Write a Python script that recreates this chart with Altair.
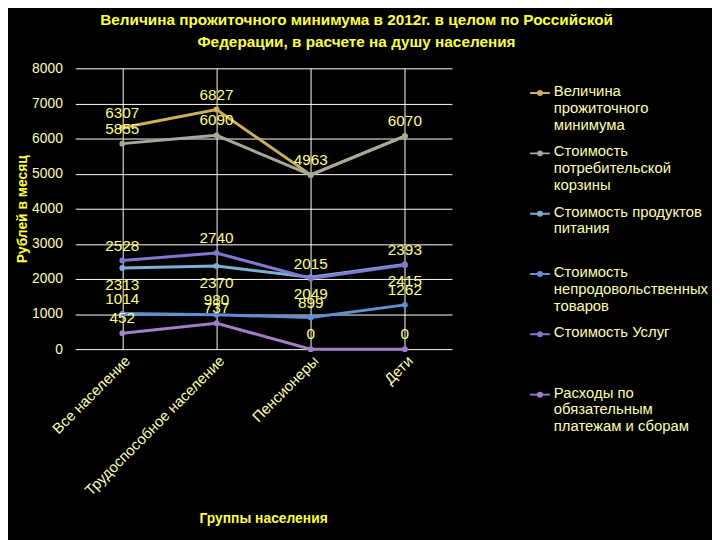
import altair as alt
import pandas as pd

groups = ["Все население", "Трудоспособное население", "Пенсионеры", "Дети"]
series = [
    "Величина прожиточного минимума",
    "Стоимость потребительской корзины",
    "Стоимость продуктов питания",
    "Стоимость непродовольственных товаров",
    "Стоимость Услуг",
    "Расходы по обязательным платежам и сборам",
]
legend_text = [
    "Величина|прожиточного|минимума",
    "Стоимость|потребительской|корзины",
    "Стоимость продуктов|питания",
    "Стоимость|непродовольственных|товаров",
    "Стоимость Услуг",
    "Расходы по|обязательным|платежам и сборам",
]
living_wage = [6307, 6827, 4963, 6070]
basket = [5855, 6090, 4963, 6070]
food = [2313, 2370, 2049, 2415]
nonfood = [1014, 980, 899, 1262]
services = [2528, 2740, 2015, 2393]
payments = [452, 737, 0, 0]
colors = ["#cdb05a", "#a8a897", "#7eaed4", "#5f8fd6", "#8078d0", "#a07fc8"]
y_ticks = [0, 1000, 2000, 3000, 4000, 5000, 6000, 7000, 8000]

values = [living_wage, basket, food, nonfood, services, payments]
rows = []
for s, lt, vals in zip(series, legend_text, values):
    for i, (g, v) in enumerate(zip(groups, vals)):
        # the basket label coincides with the living-wage label where equal
        show = not (s == series[1] and v == living_wage[i])
        rows.append({"group": g, "series": lt, "value": v, "show": show,
                     "below": s == "Стоимость продуктов питания"})
df = pd.DataFrame(rows)

FONT = "Liberation Sans"
LABEL = "#ffffb0"

x = alt.X("group:N", sort=groups, title="Группы населения",
          axis=alt.Axis(labelAngle=315, labelFontSize=15, labelColor=LABEL,
                        labelFont=FONT, labelPadding=4, labelLimit=400,
                        ticks=False, domain=False,
                        grid=True, gridColor="#ffffff", gridWidth=1,
                        titleFont=FONT, titleFontSize=14, titleFontWeight="bold",
                        titleColor="#ffff40", titleX=190, titleY=171,
                        titleBaseline="middle", titleAlign="center"))
y = alt.Y("value:Q", scale=alt.Scale(domain=[0, 8000], nice=False),
          title="Рублей в месяц",
          axis=alt.Axis(values=y_ticks, format="d", labelFontSize=14, labelColor=LABEL,
                        labelFont=FONT, labelPadding=13, ticks=False, domain=False,
                        grid=True, gridColor="#ffffff", gridWidth=1,
                        titleFont=FONT, titleFontSize=14, titleFontWeight="bold",
                        titleColor="#ffff40", titleX=-53, titleY=142,
                        titleAngle=270, titleBaseline="middle", titleAlign="center"))
color = alt.Color("series:N", sort=legend_text,
                  scale=alt.Scale(domain=legend_text, range=colors),
                  legend=alt.Legend(
                      title=None, orient="none", legendX=459, legendY=5,
                      labelExpr="split(datum.label, '|')",
                      labelFont=FONT, labelFontSize=15, labelColor=LABEL,
                      labelLimit=220, labelBaseline="top", labelOffset=3,
                      symbolType="M-1,0.9L1,0.9M0.2,0.9A0.2,0.2,0,1,1,-0.2,0.9A0.2,0.2,0,1,1,0.2,0.9Z",
                      symbolSize=400, symbolStrokeWidth=2,
                      gridAlign="all", rowPadding=1))

base = alt.Chart(df)
lines = base.mark_line(strokeWidth=3).encode(x=x, y=y, color=color)
points = base.mark_point(filled=True, size=35, opacity=1).encode(
    x=x, y=y, color=alt.Color("series:N", sort=legend_text,
                              scale=alt.Scale(domain=legend_text, range=colors),
                              legend=None))
above = base.transform_filter("!datum.below && datum.show").mark_text(
    dy=-15, fontSize=15.5, font=FONT, color="#ffff80", baseline="middle"
).encode(x=x, y=y, text=alt.Text("value:Q", format="d"))
below = base.transform_filter("datum.below").mark_text(
    dy=17, fontSize=15.5, font=FONT, color="#ffff80", baseline="middle"
).encode(x=x, y=y, text=alt.Text("value:Q", format="d"))

chart = alt.layer(lines, points, above, below).properties(
    width=381, height=284,
    autosize=alt.AutoSizeParams(type="none"),
    padding={"left": 68, "top": 58, "right": 263, "bottom": 190},
    background="#000000",
    title=alt.TitleParams(
        text=["Величина прожиточного минимума в 2012г. в целом по Российской",
              "Федерации, в расчете на душу населения"],
        font=FONT, fontSize=15.5, fontWeight="bold", color="#ffff40",
        anchor="middle", dx=94, offset=11, lineHeight=22),
).configure_view(stroke=None)

chart.save("out.html", embed_options={"renderer": "svg", "actions": False})
